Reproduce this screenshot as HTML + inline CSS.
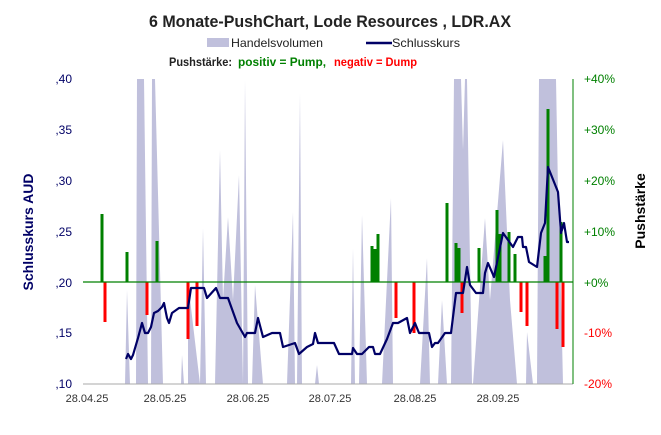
<!DOCTYPE html>
<html><head><meta charset="utf-8"><style>
body{margin:0;background:#fff;width:661px;height:430px;overflow:hidden;font-family:"Liberation Sans",sans-serif}
</style></head><body>
<svg width="661" height="430" xmlns="http://www.w3.org/2000/svg" font-family="Liberation Sans, sans-serif">
<text x="330" y="27" text-anchor="middle" font-size="17" font-weight="bold" fill="#222" textLength="362" lengthAdjust="spacingAndGlyphs">6 Monate-PushChart, Lode Resources , LDR.AX</text>
<rect x="207" y="38" width="22" height="9" fill="#c0c0dc"/>
<text x="231" y="47" font-size="12" fill="#222" textLength="92" lengthAdjust="spacingAndGlyphs">Handelsvolumen</text>
<line x1="366" y1="43" x2="392" y2="43" stroke="#000066" stroke-width="2.5"/>
<text x="392" y="47" font-size="12" fill="#222" textLength="68" lengthAdjust="spacingAndGlyphs">Schlusskurs</text>
<text x="169" y="66" font-size="12" font-weight="bold" fill="#222" textLength="63" lengthAdjust="spacingAndGlyphs">Pushstärke:</text>
<text x="238" y="66" font-size="12" font-weight="bold" fill="#008000" textLength="88" lengthAdjust="spacingAndGlyphs">positiv = Pump,</text>
<text x="334" y="66" font-size="12" font-weight="bold" fill="#ff0000" textLength="83" lengthAdjust="spacingAndGlyphs">negativ = Dump</text>
<polygon fill="#c0c0dc" points="125,384 127,290 130,384 136,384 137,79 144,79 148,384 151,384 152,79 155,79 163,384 181,384 182,355 184,384 188,384 188,282 200,384 200,384 203,228 206,384 215,384 220,150 223,300 228,217 233,300 239,175 243,384 243,384 245,80 248,384 252,384 255,285 263,384 287,384 293,212 295,384 297,384 300,93 302,384 315,384 317,365 319,384 351,384 353,248 355,384 359,384 362,215 367,384 382,384 391,198 393,384 420,384 427,258 430,384 438,384 442,300 447,384 451,384 454,79 461,79 463,150 465,79 467,79 472,384 473,384 485,218 490,300 503,140 510,300 517,384 526,384 527,332 533,384 537,384 539,79 556,79 558,190 560,250 563,384"/>
<g font-size="12" fill="#000066" text-anchor="end">
<text x="72" y="83">,40</text><text x="72" y="134">,35</text><text x="72" y="185">,30</text><text x="72" y="236">,25</text><text x="72" y="287">,20</text><text x="72" y="337">,15</text><text x="72" y="388">,10</text>
</g>
<g font-size="12" text-anchor="start">
<text x="584" y="83" fill="#008000">+40%</text><text x="584" y="134" fill="#008000">+30%</text><text x="584" y="185" fill="#008000">+20%</text><text x="584" y="236" fill="#008000">+10%</text><text x="584" y="287" fill="#008000">+0%</text><text x="584" y="337" fill="#ff0000">-10%</text><text x="584" y="388" fill="#ff0000">-20%</text>
</g>
<g font-size="11" fill="#333" text-anchor="middle">
<text x="87" y="402">28.04.25</text><text x="165" y="402">28.05.25</text><text x="248" y="402">28.06.25</text><text x="330" y="402">28.07.25</text><text x="415" y="402">28.08.25</text><text x="498" y="402">28.09.25</text>
</g>
<text transform="translate(33,232) rotate(-90)" text-anchor="middle" font-size="14" font-weight="bold" fill="#000066">Schlusskurs AUD</text>
<text transform="translate(645,211) rotate(-90)" text-anchor="middle" font-size="14" font-weight="bold" fill="#000">Pushstärke</text>
<line x1="83" y1="384" x2="573" y2="384" stroke="#aaa" stroke-width="1"/>
<line x1="573" y1="79" x2="573" y2="384" stroke="#008000" stroke-width="1"/>
<g stroke-width="3">
<g stroke="#008000">
<line x1="102" y1="282" x2="102" y2="214"/><line x1="127" y1="282" x2="127" y2="252"/><line x1="157" y1="282" x2="157" y2="241"/>
<line x1="372" y1="282" x2="372" y2="246"/><line x1="375" y1="282" x2="375" y2="249"/><line x1="378" y1="282" x2="378" y2="234"/>
<line x1="447" y1="282" x2="447" y2="203"/><line x1="456" y1="282" x2="456" y2="243"/><line x1="459" y1="282" x2="459" y2="248"/>
<line x1="479" y1="282" x2="479" y2="248"/><line x1="497" y1="282" x2="497" y2="210"/><line x1="500" y1="282" x2="500" y2="234"/>
<line x1="509" y1="282" x2="509" y2="232"/><line x1="515" y1="282" x2="515" y2="254"/><line x1="545" y1="282" x2="545" y2="256"/>
<line x1="548" y1="282" x2="548" y2="109"/><line x1="561" y1="282" x2="561" y2="222"/>
</g>
<g stroke="#ff0000">
<line x1="105" y1="282" x2="105" y2="322"/><line x1="147" y1="282" x2="147" y2="315"/><line x1="188" y1="282" x2="188" y2="339"/>
<line x1="197" y1="282" x2="197" y2="326"/><line x1="396" y1="282" x2="396" y2="318"/><line x1="414" y1="282" x2="414" y2="333"/>
<line x1="462" y1="282" x2="462" y2="313"/><line x1="521" y1="282" x2="521" y2="312"/><line x1="527" y1="282" x2="527" y2="326"/>
<line x1="557" y1="282" x2="557" y2="329"/><line x1="563" y1="282" x2="563" y2="347"/>
</g>
</g>
<line x1="83" y1="282" x2="573" y2="282" stroke="#008000" stroke-width="1.2"/>
<polyline fill="none" stroke="#000066" stroke-width="2.2" stroke-linejoin="round" points="126,359 128,354 131,359 133,355 138,338 142,323 145,333 148,333 151,327 154,313 158,311 162,307 164,303 167,318 169,323 172,313 179,308 188,308 191,288 204,288 207,298 216,288 220,298 228,298 237,323 245,337 247,333 255,333 258,318 263,337 272,333 280,333 283,347 295,343 299,354 307,347 313,344 315,333 318,343 334,343 339,354 352,354 353,348 357,354 362,354 369,347 373,347 375,354 380,354 387,339 393,323 398,323 407,318 410,333 415,323 419,333 429,333 432,347 435,343 438,343 445,333 451,333 456,293 463,293 467,267 470,285 476,293 483,293 485,273 488,263 494,277 503,233 513,247 518,237 522,237 523,247 526,247 529,262 537,267 541,233 545,223 548,167 558,192 561,233 564,223 567,242 569,242"/>
</svg>
</body></html>
